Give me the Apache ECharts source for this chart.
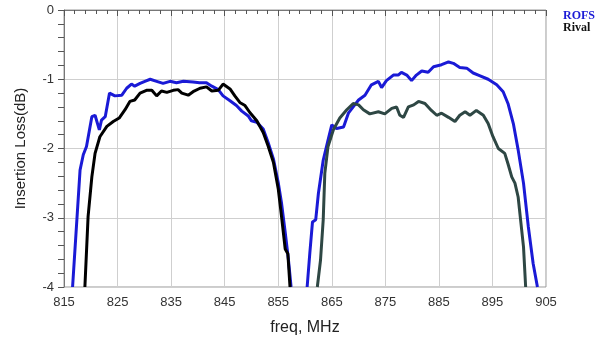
<!DOCTYPE html>
<html>
<head>
<meta charset="utf-8">
<script src="https://cdn.jsdelivr.net/npm/echarts@6/dist/echarts.min.js"></script>
<style>
  html, body { margin: 0; padding: 0; background: #fff; }
  #chart { width: 600px; height: 348px; }
</style>
</head>
<body>
<div id="chart"></div>
<script>
// band 1 (815-860 MHz)
var rofsFreq1 = [816.6, 818.0, 818.6, 819.2, 820.2, 820.8, 821.6, 822.0, 822.7, 823.5, 824.5, 825.8, 826.7, 827.6, 828.2, 829.2, 830.1, 831.1, 832.3, 833.5, 834.8, 836.0, 837.3, 839.1, 840.3, 841.6, 842.6, 843.8, 844.7, 846.0, 847.2, 848.2, 849.4, 850.0, 851.0, 852.2, 853.1, 854.1, 855.0, 855.6, 856.3, 856.9, 857.4];
var rofsLoss1 = [-4.0, -2.31, -2.09, -1.97, -1.54, -1.52, -1.73, -1.59, -1.54, -1.20, -1.24, -1.23, -1.13, -1.07, -1.10, -1.06, -1.03, -1.00, -1.03, -1.06, -1.03, -1.05, -1.03, -1.04, -1.05, -1.05, -1.10, -1.15, -1.24, -1.31, -1.38, -1.46, -1.53, -1.60, -1.62, -1.72, -1.91, -2.15, -2.49, -2.78, -3.21, -3.60, -4.0];

var rivalFreq1 = [818.9, 819.5, 820.2, 820.8, 821.7, 823.0, 824.2, 825.3, 826.4, 827.3, 828.2, 829.2, 830.4, 831.4, 832.3, 833.2, 834.2, 835.4, 836.3, 837.0, 838.2, 839.1, 840.4, 841.6, 842.6, 843.8, 844.7, 846.0, 846.9, 847.9, 848.8, 849.7, 851.0, 852.2, 853.1, 854.1, 855.0, 855.6, 856.3, 856.8, 857.2];
var rivalLoss1 = [-4.0, -2.98, -2.41, -2.07, -1.83, -1.68, -1.61, -1.56, -1.44, -1.32, -1.30, -1.20, -1.16, -1.16, -1.24, -1.17, -1.19, -1.16, -1.15, -1.20, -1.23, -1.18, -1.13, -1.11, -1.17, -1.16, -1.07, -1.14, -1.24, -1.34, -1.38, -1.48, -1.60, -1.77, -1.96, -2.20, -2.58, -2.97, -3.45, -3.52, -4.0];

// band 2 (860-905 MHz)
var rofsFreq2 = [860.4, 860.9, 861.4, 862.0, 862.5, 863.4, 864.3, 865.0, 865.9, 867.2, 868.1, 869.0, 870.0, 871.2, 872.4, 873.7, 874.3, 875.2, 876.5, 877.4, 878.0, 879.0, 879.9, 880.8, 881.8, 883.0, 884.0, 885.5, 886.8, 887.7, 888.9, 890.2, 891.4, 892.7, 894.2, 895.8, 897.0, 897.9, 898.9, 899.8, 900.8, 901.7, 902.6, 903.4];
var rofsLoss2 = [-4.0, -3.51, -3.06, -3.03, -2.65, -2.17, -1.88, -1.66, -1.71, -1.69, -1.49, -1.40, -1.30, -1.23, -1.08, -1.03, -1.12, -1.02, -0.94, -0.94, -0.90, -0.94, -1.02, -0.94, -0.88, -0.90, -0.82, -0.79, -0.75, -0.77, -0.83, -0.84, -0.91, -0.95, -1.00, -1.08, -1.18, -1.35, -1.64, -2.02, -2.50, -3.13, -3.66, -4.0];

var rivalFreq2 = [862.3, 862.9, 863.4, 863.7, 864.3, 865.3, 866.5, 867.8, 869.0, 870.0, 870.9, 872.1, 873.7, 874.9, 876.2, 877.1, 877.7, 878.4, 879.3, 880.3, 881.2, 882.4, 883.6, 884.6, 885.5, 886.8, 888.0, 888.9, 889.9, 890.8, 892.0, 893.3, 894.2, 895.1, 896.1, 897.3, 897.9, 898.6, 899.2, 899.8, 900.2, 900.8, 901.2];
var rivalLoss2 = [-4.0, -3.61, -3.03, -2.36, -1.97, -1.73, -1.56, -1.44, -1.35, -1.37, -1.44, -1.50, -1.47, -1.50, -1.42, -1.40, -1.52, -1.55, -1.40, -1.37, -1.32, -1.35, -1.45, -1.52, -1.49, -1.55, -1.61, -1.52, -1.47, -1.52, -1.45, -1.52, -1.64, -1.83, -2.00, -2.07, -2.22, -2.41, -2.50, -2.70, -2.99, -3.42, -4.0];

var xTicks = [815, 825, 835, 845, 855, 865, 875, 885, 895, 905];
var yTicks = [0, -1, -2, -3, -4];

function pairs(xs, ys) {
    return xs.map(function (x, i) { return [x, ys[i]]; });
}

var chartDom = document.getElementById('chart');
var myChart = echarts.init(chartDom);

var tickFont = { color: '#333', fontSize: 13, fontFamily: 'Liberation Sans, Arial, sans-serif' };

var option = {
    backgroundColor: '#fff',
    animation: false,
    grid: { left: 64, right: 54, top: 10, bottom: 61, show: true, borderColor: '#999', borderWidth: 1 },
    legend: {
        orient: 'vertical',
        left: 558,
        top: 10,
        padding: 0,
        icon: 'none',
        itemWidth: 0,
        itemHeight: 12,
        itemGap: 0,
        selectedMode: false,
        textStyle: { fontFamily: 'Liberation Serif, serif', fontWeight: 'bold', fontSize: 12, lineHeight: 12, padding: 0 },
        data: [
            { name: 'ROFS', textStyle: { color: '#1a1ad6' } },
            { name: 'Rival', textStyle: { color: '#111' } }
        ]
    },
    xAxis: {
        type: 'value',
        min: xTicks[0],
        max: xTicks[xTicks.length - 1],
        interval: 10,
        name: 'freq, MHz',
        nameLocation: 'middle',
        nameGap: 33,
        nameTextStyle: { color: '#222', fontSize: 16, fontFamily: 'Liberation Sans, Arial, sans-serif' },
        axisLine: { lineStyle: { color: '#777' } },
        axisTick: { length: 6, lineStyle: { color: '#555' } },
        minorTick: { show: true, splitNumber: 5, length: 4, lineStyle: { color: '#555' } },
        axisLabel: Object.assign({ margin: 9 }, tickFont),
        splitLine: { show: true, lineStyle: { color: '#cfcfcf' } }
    },
    yAxis: {
        type: 'value',
        min: yTicks[yTicks.length - 1],
        max: yTicks[0],
        interval: 1,
        name: 'Insertion Loss(dB)',
        nameLocation: 'middle',
        nameGap: 36,
        nameTextStyle: { color: '#222', fontSize: 15, fontFamily: 'Liberation Sans, Arial, sans-serif' },
        axisLine: { show: true, lineStyle: { color: '#777' } },
        axisTick: { show: true, length: 6, lineStyle: { color: '#555' } },
        minorTick: { show: true, splitNumber: 5, length: 6, lineStyle: { color: '#555' } },
        axisLabel: Object.assign({ margin: 10 }, tickFont),
        splitLine: { show: true, lineStyle: { color: '#cfcfcf' } }
    },
    series: [
        { name: 'ROFS', type: 'line', data: pairs(rofsFreq1, rofsLoss1), symbol: 'none', lineStyle: { color: '#1a1ad6', width: 3 }, itemStyle: { color: '#1a1ad6' }, z: 3 },
        { name: 'Rival', type: 'line', data: pairs(rivalFreq1, rivalLoss1), symbol: 'none', lineStyle: { color: '#000', width: 3 }, itemStyle: { color: '#000' }, z: 4 },
        { name: 'ROFS', type: 'line', data: pairs(rofsFreq2, rofsLoss2), symbol: 'none', lineStyle: { color: '#1a1ad6', width: 3 }, itemStyle: { color: '#1a1ad6' }, z: 3 },
        { name: 'Rival', type: 'line', data: pairs(rivalFreq2, rivalLoss2), symbol: 'none', lineStyle: { color: '#2e4744', width: 3 }, itemStyle: { color: '#2e4744' }, z: 4 }
    ]
};

myChart.setOption(option);
window.addEventListener('resize', function () {
    myChart.resize();
});
</script>
</body>
</html>
